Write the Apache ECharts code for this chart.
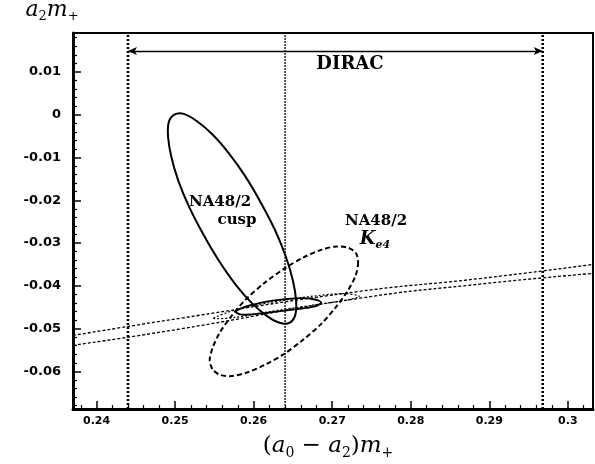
<!DOCTYPE html>
<html>
<head>
<meta charset="utf-8">
<script src="https://cdn.jsdelivr.net/npm/echarts@6/dist/echarts.min.js"></script>
<style>html,body{margin:0;padding:0;background:#fff}#c{width:595px;height:464px}</style>
</head>
<body>
<div id="c"></div>
<script>
// ---- axis ranges and ticks ----
const xRange = [0.237, 0.3032];
const yRange = [-0.0688, 0.0191];
const xMajor = [0.24, 0.25, 0.26, 0.27, 0.28, 0.29, 0.30];
const xLabels = ['0.24', '0.25', '0.26', '0.27', '0.28', '0.29', '0.3'];
const yMajor = [-0.06, -0.05, -0.04, -0.03, -0.02, -0.01, 0, 0.01];
const yLabels = ['-0.06', '-0.05', '-0.04', '-0.03', '-0.02', '-0.01', '0', '0.01'];
const minorStep = 0.002;

// ---- DIRAC band (vertical limits, central value, arrow height) ----
const diracLimits = [0.244, 0.2968];
const diracCentral = [0.264];
const diracArrowY = [0.0149];

// ---- NA48/2 cusp contour (solid) ----
const cuspPoints = [
  [0.2646, -0.0486], [0.2653, -0.0468], [0.2654, -0.0434], [0.2650, -0.0388],
  [0.2641, -0.0332], [0.2627, -0.0269], [0.2609, -0.0205], [0.2589, -0.0143],
  [0.2568, -0.0089], [0.2547, -0.0045], [0.2527, -0.0014], [0.2511, 0.0002],
  [0.2499, 0.0000], [0.2492, -0.0017], [0.2491, -0.0051], [0.2495, -0.0097],
  [0.2504, -0.0154], [0.2518, -0.0216], [0.2536, -0.0280], [0.2556, -0.0342],
  [0.2577, -0.0397], [0.2598, -0.0441], [0.2618, -0.0472], [0.2634, -0.0487]
];

// ---- NA48/2 Ke4 contour (dashed) ----
const ke4Points = [
  [0.2733, -0.0345], [0.2730, -0.0375], [0.2720, -0.0411], [0.2705, -0.0449],
  [0.2686, -0.0489], [0.2663, -0.0526], [0.2639, -0.0559], [0.2614, -0.0585],
  [0.2591, -0.0603], [0.2572, -0.0611], [0.2557, -0.0608], [0.2548, -0.0596],
  [0.2544, -0.0574], [0.2548, -0.0544], [0.2557, -0.0509], [0.2572, -0.0470],
  [0.2591, -0.0430], [0.2614, -0.0393], [0.2639, -0.0360], [0.2663, -0.0334],
  [0.2686, -0.0316], [0.2705, -0.0308], [0.2720, -0.0311], [0.2730, -0.0323]
];

// ---- combined contours ----
const combinedInner = [
  [0.2577, -0.0460], [0.2595, -0.0446], [0.2627, -0.0434], [0.2659, -0.0429],
  [0.2678, -0.0432], [0.2686, -0.0439], [0.2678, -0.0448], [0.2653, -0.0455],
  [0.2621, -0.0462], [0.2595, -0.0467], [0.2583, -0.0467]
];
const combinedOuter = [
  [0.2549, -0.0476], [0.2576, -0.0457], [0.2621, -0.0439], [0.2672, -0.0425],
  [0.2716, -0.0418], [0.2735, -0.0425], [0.2716, -0.0434], [0.2672, -0.0446],
  [0.2621, -0.0460], [0.2576, -0.0474]
];

// ---- theory band (two dotted lines) ----
const bandUpper = [[0.2370, -0.0516], [0.2506, -0.0476], [0.2735, -0.0413], [0.2888, -0.0383], [0.3032, -0.0350]];
const bandLower = [[0.2370, -0.0539], [0.2506, -0.0501], [0.2735, -0.0429], [0.2888, -0.0396], [0.3032, -0.0371]];

// ---- helpers ----
function r(v) { return Math.round(v * 100000) / 100000; }
function minors(range, major) {
  const out = [];
  for (let k = Math.ceil(range[0] / minorStep - 1e-9); k * minorStep <= range[1] + 1e-9; k++) {
    const v = r(k * minorStep);
    if (!major.some(m => Math.abs(m - v) < 1e-7)) out.push(v);
  }
  return out;
}
function labelOf(vals, labels) {
  return v => { const i = vals.findIndex(m => Math.abs(m - v) < 1e-7); return i >= 0 ? labels[i] : ''; };
}
function contour(points, lineWidth, dash) {
  return {
    type: 'custom', data: points, encode: { x: 0, y: 1 }, silent: true,
    renderItem: (params, api) => {
      if (params.dataIndex !== 0) return;
      const pts = points.map(p => api.coord(p));
      return { type: 'polygon', shape: { points: pts, smooth: 0.3 },
        style: { fill: 'none', stroke: '#000', lineWidth: lineWidth, lineDash: dash || null } };
    }
  };
}

const serif = 'DejaVu Serif';
const measureCtx = document.createElement('canvas').getContext('2d');
// math-style label: pieces of [text, italic, subscript]
function mathLabel(pieces, cx, cy, size, weight) {
  const subSize = Math.round(size * 0.6);
  const fonts = pieces.map(p => (p[1] ? 'italic ' : '') + (weight || 'normal') + ' ' + (p[2] ? subSize : size) + 'px "' + serif + '"');
  const widths = pieces.map((p, i) => { measureCtx.font = fonts[i]; return measureCtx.measureText(p[0]).width; });
  const total = widths.reduce((a, b) => a + b, 0);
  let x = cx - total / 2;
  return pieces.map((p, i) => {
    const el = { type: 'text', x: x, y: cy + (p[2] ? size * 0.32 : 0), silent: true,
      style: { text: p[0], fill: '#000', align: 'left', verticalAlign: 'middle',
        fontFamily: serif, fontStyle: p[1] ? 'italic' : 'normal', fontWeight: weight || 'normal',
        fontSize: p[2] ? subSize : size } };
    x += widths[i];
    return el;
  });
}

const axisFont = { fontFamily: 'DejaVu Sans', fontWeight: 'bold', color: '#000' };

const chart = echarts.init(document.getElementById('c'), null, { renderer: 'canvas' });
chart.setOption({
  backgroundColor: '#fff',
  animation: false,
  grid: { left: 73, right: 2, top: 33, bottom: 55, show: true, borderColor: '#000', borderWidth: 2, containLabel: false },
  xAxis: [
    {
      type: 'value', min: xRange[0], max: xRange[1], position: 'bottom',
      axisLine: { show: true, onZero: false, lineStyle: { color: '#000', width: 3 } },
      axisTick: { show: true, inside: true, length: 8, lineStyle: { color: '#000', width: 1.5 }, customValues: xMajor },
      axisLabel: { show: true, customValues: xMajor, formatter: labelOf(xMajor, xLabels), margin: 7, fontSize: 11, ...axisFont },
      splitLine: { show: false }
    },
    {
      type: 'value', min: xRange[0], max: xRange[1], position: 'bottom', offset: 0,
      axisLine: { show: false, onZero: false },
      axisTick: { show: true, inside: true, length: 4, lineStyle: { color: '#000', width: 1.2 }, customValues: minors(xRange, xMajor) },
      axisLabel: { show: false }, splitLine: { show: false }
    }
  ],
  yAxis: [
    {
      type: 'value', min: yRange[0], max: yRange[1], position: 'left',
      axisLine: { show: true, onZero: false, lineStyle: { color: '#000', width: 3 } },
      axisTick: { show: true, inside: true, length: 8, lineStyle: { color: '#000', width: 1.5 }, customValues: yMajor },
      axisLabel: { show: true, customValues: yMajor, formatter: labelOf(yMajor, yLabels), margin: 12, fontSize: 13, ...axisFont },
      splitLine: { show: false }
    },
    {
      type: 'value', min: yRange[0], max: yRange[1], position: 'left', offset: 0,
      axisLine: { show: false, onZero: false },
      axisTick: { show: true, inside: true, length: 4, lineStyle: { color: '#000', width: 1.2 }, customValues: minors(yRange, yMajor) },
      axisLabel: { show: false }, splitLine: { show: false }
    }
  ],
  series: [
    // theory band
    { type: 'line', data: bandUpper, smooth: true, symbol: 'none', lineStyle: { color: '#000', width: 1.3, type: [3, 2] } },
    { type: 'line', data: bandLower, smooth: true, symbol: 'none', lineStyle: { color: '#000', width: 1.3, type: [3, 2] } },
    // DIRAC verticals
    ...diracLimits.map(x => ({ type: 'line', data: [[x, yRange[0]], [x, yRange[1]]], symbol: 'none',
      lineStyle: { color: '#000', width: 2.6, type: [2, 2] } })),
    ...diracCentral.map(x => ({ type: 'line', data: [[x, yRange[0]], [x, yRange[1]]], symbol: 'none',
      lineStyle: { color: '#000', width: 1.3, type: [2, 1] } })),
    // DIRAC arrow
    { type: 'line', data: [], symbol: 'none',
      markLine: { silent: true, symbol: ['arrow', 'arrow'], symbolSize: [6, 9], label: { show: false },
        lineStyle: { color: '#000', width: 1.3, type: 'solid' },
        data: [[{ coord: [diracLimits[0], diracArrowY[0]] }, { coord: [diracLimits[1], diracArrowY[0]] }]] } },
    // contours
    contour(cuspPoints, 2),
    contour(ke4Points, 2, [5, 3]),
    contour(combinedOuter, 1.2, [2, 2]),
    contour(combinedInner, 1.8)
  ],
  graphic: [
    ...mathLabel([['a', true, false], ['2', false, true], ['m', true, false], ['+', false, true]], 52, 10, 22),
    ...mathLabel([['(', false, false], ['a', true, false], ['0', false, true], [' − ', false, false],
                  ['a', true, false], ['2', false, true], [')', false, false], ['m', true, false], ['+', false, true]], 328, 446, 23),
    { type: 'text', x: 350, y: 64, style: { text: 'DIRAC', fill: '#000', align: 'center', verticalAlign: 'middle',
      fontFamily: serif, fontWeight: 'bold', fontSize: 18 } },
    { type: 'text', x: 220, y: 202, style: { text: 'NA48/2', fill: '#000', align: 'center', verticalAlign: 'middle',
      fontFamily: serif, fontWeight: 'bold', fontSize: 15 } },
    { type: 'text', x: 237, y: 220, style: { text: 'cusp', fill: '#000', align: 'center', verticalAlign: 'middle',
      fontFamily: serif, fontWeight: 'bold', fontSize: 15 } },
    { type: 'text', x: 376, y: 221, style: { text: 'NA48/2', fill: '#000', align: 'center', verticalAlign: 'middle',
      fontFamily: serif, fontWeight: 'bold', fontSize: 15 } },
    ...mathLabel([['K', true, false], ['e4', true, true]], 375, 239, 18, 'bold')
  ]
});
</script>
</body>
</html>
